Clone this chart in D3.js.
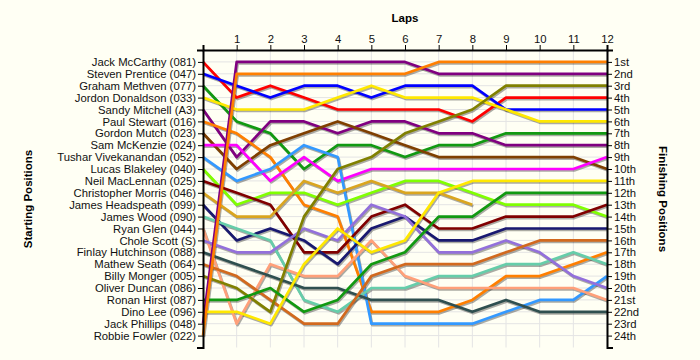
<!doctype html>
<html>
<head>
<meta charset="UTF-8">
<title>Lap Chart</title>
<script src="https://d3js.org/d3.v7.min.js"></script>
<style>
  body { margin: 0; background: #fffff4; }
  text { font-family: "Liberation Sans", Arial, sans-serif; }
</style>
</head>
<body>
<script>
// ---- data ----
var laps = [0, 1, 2, 3, 4, 5, 6, 7, 8, 9, 10, 11, 12];

var drivers = [
  "Jack McCarthy (081)", "Steven Prentice (047)", "Graham Methven (077)",
  "Jordon Donaldson (033)", "Sandy Mitchell (A3)", "Paul Stewart (016)",
  "Gordon Mutch (023)", "Sam McKenzie (024)", "Tushar Vivekanandan (052)",
  "Lucas Blakeley (040)", "Neil MacLennan (025)", "Christopher Morris (046)",
  "James Headspeath (099)", "James Wood (090)", "Ryan Glen (044)",
  "Chole Scott (S)", "Finlay Hutchinson (088)", "Mathew Seath (064)",
  "Billy Monger (005)", "Oliver Duncan (086)", "Ronan Hirst (087)",
  "Dino Lee (096)", "Jack Phillips (048)", "Robbie Fowler (022)"
];

// position of each driver at lap 0..12 (empty = no laps recorded)
var lapPositions = [
  [1, 4, 3, 4, 5, 5, 5, 5, 6, 4, 4, 4, 4],
  [2, 3, 4, 3, 3, 4, 3, 3, 3, 5, 5, 5, 5],
  [3, 6, 7, 10, 8, 8, 9, 8, 8, 7, 7, 7, 7],
  [4, 5, 5, 5, 4, 3, 4, 4, 4, 5, 6, 6, 6],
  [5, 9, 6, 6, 7, 6, 6, 7, 7, 8, 8, 8, 8],
  [6, 7, 9, 13, 14, 22, 22, 22, 21, 19, 19, 18, 17],
  [7, 10, 8, 7, 6, 7, 8, 9, 9, 9, 9, 9, 10],
  [8, 8, 11, 9, 11, 10, 10, 10, 10, 10, 10, 10, 9],
  [9, 11, 10, 8, 9, 23, 23, 23, 23, 22, 21, 21, 19],
  [10, 13, 12, 12, 13, 12, 11, 11, 12, 13, 13, 13, 14],
  [11, 12, 13, 17, 17, 14, 13, 15, 15, 14, 14, 14, 13],
  [12, 14, 14, 11, 12, 11, 12, 12, 13],
  [13, 16, 15, 16, 18, 15, 14, 16, 16, 15, 15, 15, 15],
  [14, 15, 16, 21, 22, 20, 20, 19, 19, 18, 18, 17, 18],
  [15, 23, 18, 19, 19, 16, 19, 20, 20, 20, 20, 20, 21],
  [16, 17, 17, 15, 16, 13, 14, 17, 17, 16, 17, 19, 20],
  [17, 18, 19, 20, 20, 21, 21, 21, 22, 21, 22, 22, 22],
  [18, 19, 21, 23, 23, 19, 18, 18, 18, 17, 16, 16, 16],
  [19, 20, 22, 14, 10, 9, 7, 6, 5, 3, 3, 3, 3],
  [],
  [21, 21, 20, 22, 21, 18, 17, 14, 14, 12, 12, 12, 12],
  [22, 22, 23, 18, 15, 17, 16, 12, 11, 11, 11, 11, 11],
  [23, 1, 1, 1, 1, 1, 1, 2, 2, 2, 2, 2, 2],
  [24, 2, 2, 2, 2, 2, 2, 1, 1, 1, 1, 1, 1]
];

var finishLabels = [
  "1st", "2nd", "3rd", "4th", "5th", "6th", "7th", "8th", "9th", "10th",
  "11th", "12th", "13th", "14th", "15th", "16th", "17th", "18th", "19th",
  "20th", "21st", "22nd", "23rd", "24th"
];

var colors = [
  "#ff0000", "#0000ff", "#119911", "#ffe800", "#800080", "#ff7f00",
  "#7f3f00", "#ff00ff", "#3399ff", "#80ff00", "#800000", "#daa520",
  "#191970", "#66cdaa", "#ffa07a", "#9370db", "#2f4f4f", "#d2691e",
  "#808000", "#999999", "#119911", "#ffe800", "#800080", "#ff7f00"
];

// ---- chart ----
var width = 700, height = 360;
var svg = d3.select("body").append("svg")
  .attr("width", width)
  .attr("height", height);

svg.append("rect")
  .attr("width", width)
  .attr("height", height)
  .attr("fill", "#fffff4");

var x = d3.scaleLinear().domain([0, 12]).range([203, 607]);
var y = d3.scaleLinear().domain([0, 25]).range([50, 347.5]);
var posTicks = d3.range(1, 25);

// grid
var grid = svg.append("g").attr("stroke", "#e4e4e4").attr("stroke-width", 1);
grid.selectAll("line.v").data(laps.slice(1)).enter().append("line")
  .attr("x1", function(d){ return x(d); })
  .attr("x2", function(d){ return x(d); })
  .attr("y1", y(0)).attr("y2", y(25));
grid.selectAll("line.h").data(posTicks).enter().append("line")
  .attr("x1", x(0)).attr("x2", x(12))
  .attr("y1", function(d){ return y(d); })
  .attr("y2", function(d){ return y(d); });

// lines
var line = d3.line()
  .x(function(d, i){ return x(laps[i]); })
  .y(function(d){ return y(d); });

var series = lapPositions.map(function(p, i){ return { pos: p, color: colors[i] }; })
  .filter(function(s){ return s.pos.length > 1; });

svg.append("g").selectAll("path").data(series).enter().append("path")
  .attr("d", function(s){ return line(s.pos); })
  .attr("transform", "translate(1,1.5)")
  .attr("fill", "none")
  .attr("stroke", "rgba(0,0,0,0.33)")
  .attr("stroke-width", 2.7)
  .attr("stroke-linejoin", "round");

svg.append("g").selectAll("path").data(series).enter().append("path")
  .attr("d", function(s){ return line(s.pos); })
  .attr("fill", "none")
  .attr("stroke", function(s){ return s.color; })
  .attr("stroke-width", 2.7)
  .attr("stroke-linejoin", "round");

// axes
var topAxis = svg.append("g")
  .attr("transform", "translate(0," + y(0) + ")")
  .call(d3.axisTop(x).tickValues(laps.slice(1)).tickFormat(d3.format("d")).tickSize(5).tickSizeOuter(5));

var leftAxis = svg.append("g")
  .attr("transform", "translate(" + x(0) + ",0)")
  .call(d3.axisLeft(y).tickValues(posTicks)
    .tickFormat(function(d){ return drivers[d - 1]; })
    .tickSize(5).tickSizeOuter(6));

var rightAxis = svg.append("g")
  .attr("transform", "translate(" + x(12) + ",0)")
  .call(d3.axisRight(y).tickValues(posTicks)
    .tickFormat(function(d){ return finishLabels[d - 1]; })
    .tickSize(5).tickSizeOuter(6));

[topAxis, leftAxis, rightAxis].forEach(function(a){
  a.selectAll("path.domain").attr("stroke", "#000").attr("stroke-width", 2);
  a.selectAll(".tick line").attr("stroke", "#000").attr("stroke-width", 1);
  a.selectAll("text").attr("fill", "#111").style("font-size", "11.3px")
    .style("font-family", "'Liberation Sans', Arial, sans-serif");
});
leftAxis.selectAll("text").attr("x", -7);
rightAxis.selectAll("text").attr("x", 7);
topAxis.selectAll("text").attr("y", -7);

// titles
svg.append("text")
  .attr("x", 405).attr("y", 22)
  .attr("text-anchor", "middle")
  .attr("font-weight", "bold").attr("font-size", 11.5)
  .text("Laps");

svg.append("text")
  .attr("transform", "translate(32,199) rotate(-90)")
  .attr("text-anchor", "middle")
  .attr("font-weight", "bold").attr("font-size", 11.5)
  .text("Starting Positions");

svg.append("text")
  .attr("transform", "translate(659,199) rotate(90)")
  .attr("text-anchor", "middle")
  .attr("font-weight", "bold").attr("font-size", 11.5)
  .text("Finishing Positions");
</script>
</body>
</html>
